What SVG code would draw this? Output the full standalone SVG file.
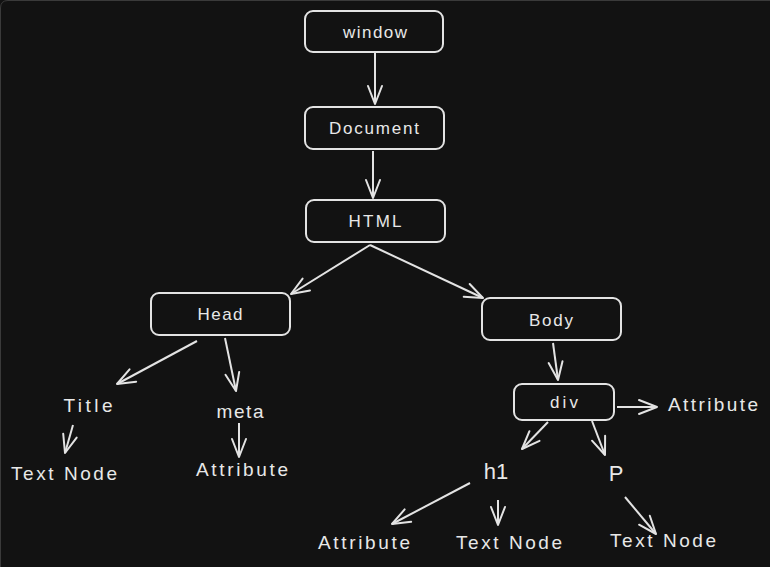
<svg xmlns="http://www.w3.org/2000/svg" width="770" height="567" viewBox="0 0 770 567">
<style>
.bg{fill:#121212}
.box{fill:#121212;stroke:#e3e3e3;stroke-width:2}
.t{font-family:"Liberation Sans",Arial,sans-serif;font-size:17px;fill:#e8e8e8;text-anchor:middle;dominant-baseline:central}
.lbl{font-size:19px}
.c{stroke:#e3e3e3;stroke-width:2;fill:none;marker-end:url(#ah)}
</style>
<defs>
<marker id="ah" markerUnits="userSpaceOnUse" markerWidth="22" markerHeight="22" viewBox="-20 -11 22 22" refX="0" refY="0" orient="auto">
<path d="M-18,-7 L0,0 L-18,7" fill="none" stroke="#e3e3e3" stroke-width="2" stroke-linecap="round" stroke-linejoin="round"/>
</marker>
</defs>
<rect class="bg" x="0" y="0" width="770" height="567"/>
<path d="M0.5,567 V8 Q0.5,0.5 8,0.5 H770" fill="none" stroke="#3a3a3a" stroke-width="1"/>
<g id="connectors">
<line class="c" x1="375" y1="53" x2="375" y2="104"/>
<line class="c" x1="373" y1="151" x2="373" y2="198"/>
<line class="c" x1="370" y1="245" x2="291" y2="294"/>
<line class="c" x1="370" y1="245" x2="483" y2="298"/>
<line class="c" x1="197" y1="341" x2="117" y2="384"/>
<line class="c" x1="225" y1="338" x2="236" y2="391"/>
<line class="c" x1="73" y1="425" x2="65" y2="453"/>
<line class="c" x1="239" y1="423" x2="239" y2="457"/>
<line class="c" x1="553" y1="343" x2="558" y2="380"/>
<line class="c" x1="617" y1="407" x2="657" y2="407"/>
<line class="c" x1="548" y1="422" x2="522" y2="449"/>
<line class="c" x1="592" y1="421" x2="605" y2="455"/>
<line class="c" x1="470" y1="483" x2="392" y2="524"/>
<line class="c" x1="498" y1="500" x2="498" y2="525"/>
<line class="c" x1="625" y1="497" x2="656" y2="534"/>
</g>
<g id="window"><rect class="box" x="305" y="11" width="138" height="41" rx="8"/><text class="t" x="375" y="32" textLength="64" lengthAdjust="spacing">window</text></g>
<g id="document"><rect class="box" x="305" y="107" width="139" height="42" rx="8"/><text class="t" x="374" y="128" textLength="90" lengthAdjust="spacing">Document</text></g>
<g id="html"><rect class="box" x="306" y="200" width="139" height="42" rx="8"/><text class="t" x="375" y="221" textLength="53" lengthAdjust="spacing">HTML</text></g>
<g id="head"><rect class="box" x="151" y="293" width="139" height="42" rx="8"/><text class="t" x="220" y="314" textLength="45" lengthAdjust="spacing">Head</text></g>
<g id="body"><rect class="box" x="482" y="298" width="139" height="42" rx="8"/><text class="t" x="551" y="320" textLength="44" lengthAdjust="spacing">Body</text></g>
<g id="div"><rect class="box" x="514" y="384" width="100" height="36" rx="8"/><text class="t" x="564" y="402" textLength="28" lengthAdjust="spacing">div</text></g>
<g id="title"><text class="t lbl" x="88" y="405" textLength="49" lengthAdjust="spacing">Title</text></g>
<g id="meta"><text class="t lbl" x="240" y="411" textLength="47" lengthAdjust="spacing">meta</text></g>
<g id="title-text"><text class="t lbl" x="64" y="473" textLength="106" lengthAdjust="spacing">Text Node</text></g>
<g id="meta-attr"><text class="t lbl" x="242" y="469" textLength="92" lengthAdjust="spacing">Attribute</text></g>
<g id="div-attr"><text class="t lbl" x="713" y="404" textLength="90" lengthAdjust="spacing">Attribute</text></g>
<g id="h1"><text class="t" x="496" y="471" style="font-size:22px">h1</text></g>
<g id="p"><text class="t" x="616" y="473" style="font-size:22px">P</text></g>
<g id="h1-attr"><text class="t lbl" x="364" y="542" textLength="92" lengthAdjust="spacing">Attribute</text></g>
<g id="h1-text"><text class="t lbl" x="509" y="542" textLength="106" lengthAdjust="spacing">Text Node</text></g>
<g id="p-text"><text class="t lbl" x="663" y="540" textLength="106" lengthAdjust="spacing">Text Node</text></g>
</svg>
